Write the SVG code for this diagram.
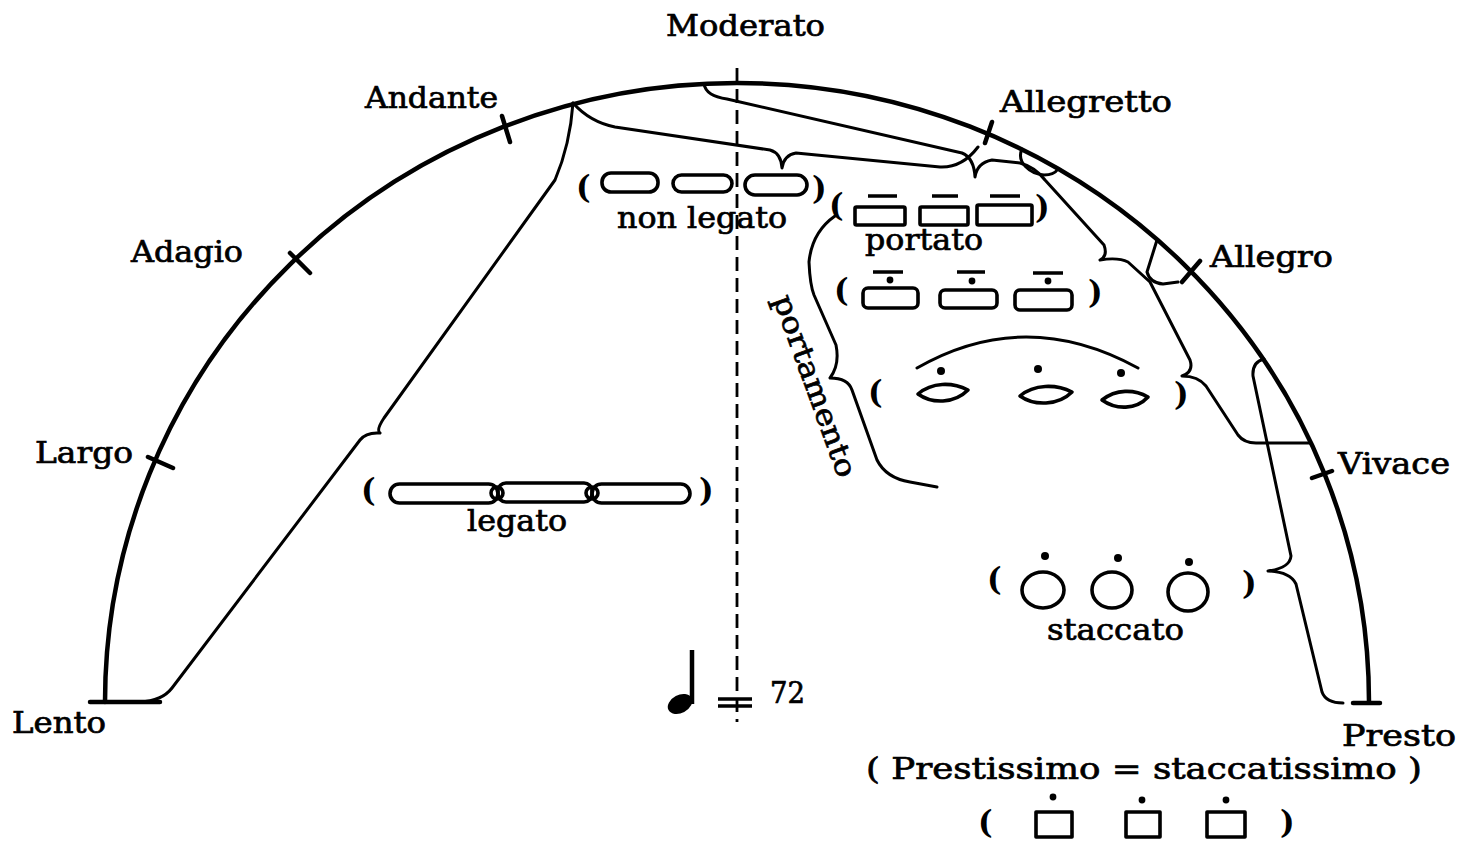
<svg xmlns="http://www.w3.org/2000/svg" width="1461" height="842" viewBox="0 0 1461 842">
<style>
.t{font-family:"DejaVu Serif","Liberation Serif",serif;font-size:29px;fill:#000;stroke:#000;stroke-width:0.7}
.p{font-family:"DejaVu Serif","Liberation Serif",serif;font-size:31px;font-weight:bold;fill:#000}
.ln{fill:none;stroke:#000;stroke-width:3;stroke-linecap:round;stroke-linejoin:round}
.arc{fill:none;stroke:#000;stroke-width:4.5;stroke-linecap:round}
.sh{fill:none;stroke:#000;stroke-width:3.6;stroke-linejoin:round}
.dot{fill:#000}
</style>
<rect width="1461" height="842" fill="#fff"/>

<g id="scale">
  <path class="arc" d="M105 702 A632 619 0 0 1 1369 702"/>
  <path class="arc" d="M502 116 L510 142 M290 253 L310 273 M148 457 L173 468 M992 122 L985 143 M1200 261 L1182 282 M1312 478 L1332 471"/>
  <path class="arc" stroke-width="5.5" d="M90 702 L160 702 M1353 703 L1380 703"/>
</g>

<g id="labels">
  <text class="t" x="666" y="36" textLength="159" lengthAdjust="spacingAndGlyphs">Moderato</text>
  <text class="t" x="365" y="108" textLength="133" lengthAdjust="spacingAndGlyphs">Andante</text>
  <text class="t" x="131" y="262" textLength="112" lengthAdjust="spacingAndGlyphs">Adagio</text>
  <text class="t" x="35" y="463" textLength="98" lengthAdjust="spacingAndGlyphs">Largo</text>
  <text class="t" x="12" y="733" textLength="94" lengthAdjust="spacingAndGlyphs">Lento</text>
  <text class="t" x="1000" y="112" textLength="172" lengthAdjust="spacingAndGlyphs">Allegretto</text>
  <text class="t" x="1210" y="267" textLength="123" lengthAdjust="spacingAndGlyphs">Allegro</text>
  <text class="t" x="1338" y="474" textLength="112" lengthAdjust="spacingAndGlyphs">Vivace</text>
  <text class="t" x="1342" y="746" textLength="114" lengthAdjust="spacingAndGlyphs">Presto</text>
  <text class="t" x="866" y="779" textLength="556" lengthAdjust="spacingAndGlyphs">( Prestissimo = staccatissimo )</text>
</g>

<g id="connectors">
  <path class="ln" d="M573 103 Q570 145 555 180 L384 418 Q376 430 380 433 Q366 432 360 440 L172 688 Q162 701 140 702"/>
  <path class="ln" d="M573 103 Q590 122 615 127 L770 150 Q781 153 782 168 Q784 155 796 153 L940 167 Q962 168 978 147"/>
  <path class="ln" d="M704 84 Q706 96 727 99 L962 153 Q974 158 975 177 Q977 163 992 160 L1020 163 Q1035 167 1045 180 L1104 245 Q1108 256 1100 260 Q1118 257 1128 262 L1150 282 L1190 360 Q1194 372 1182 376 Q1198 376 1206 386 L1238 435 Q1244 443 1256 443 L1311 443"/>
  <path class="ln" d="M1022 149 C1016 162 1030 174 1044 175 C1052 175 1056 172 1058 169"/>
  <path class="ln" d="M1157 240 L1147 272 Q1150 283 1163 284 L1178 282"/>
  <path class="ln" d="M1264 359 Q1252 362 1253 376 L1291 556 Q1290 568 1268 571 Q1290 572 1296 584 L1322 692 Q1326 703 1343 703"/>
  <path class="ln" d="M835 216 Q812 232 809 262 Q810 285 814 295 L836 345 Q840 365 830 378 Q848 378 852 390 L877 460 Q886 478 910 482 L937 487"/>
</g>

<g id="tempo-axis">
  <line x1="737" y1="68" x2="737" y2="722" stroke="#000" stroke-width="2.8" stroke-dasharray="14 7"/>
  <line x1="692" y1="650" x2="692" y2="704" stroke="#000" stroke-width="4.5"/>
  <ellipse cx="680" cy="704" rx="13" ry="9" transform="rotate(-28 680 704)" class="dot"/>
  <path d="M718 699 L752 699 M718 706 L752 706" stroke="#000" stroke-width="3.5"/>
  <text class="t" x="770" y="703" font-size="25" textLength="35" lengthAdjust="spacingAndGlyphs">72</text>
</g>

<g id="non-legato">
  <text class="p" x="576" y="198">(</text>
  <rect class="sh" x="602" y="173" width="56" height="19" rx="9"/>
  <rect class="sh" x="673" y="175" width="59" height="17" rx="8.5"/>
  <rect class="sh" x="745" y="175" width="62" height="20" rx="10"/>
  <text class="p" x="812" y="199">)</text>
  <text class="t" x="617" y="228" textLength="170" lengthAdjust="spacingAndGlyphs">non legato</text>
</g>

<g id="portato">
  <text class="p" x="829" y="216">(</text>
  <rect class="sh" x="855" y="207" width="50" height="18" rx="1.5"/>
  <rect class="sh" x="920" y="207" width="48" height="18" rx="1.5"/>
  <rect class="sh" x="977" y="205" width="55" height="20" rx="1.5"/>
  <path class="sh" d="M868 196 L897 196 M932 196 L958 196 M990 196 L1020 196"/>
  <text class="p" x="1035" y="218">)</text>
  <text class="t" x="865" y="250" textLength="118" lengthAdjust="spacingAndGlyphs">portato</text>
</g>

<g id="mezzo-staccato">
  <text class="p" x="834" y="301">(</text>
  <rect class="sh" x="863" y="288" width="55" height="20" rx="5"/>
  <rect class="sh" x="940" y="290" width="57" height="18" rx="5"/>
  <rect class="sh" x="1015" y="290" width="57" height="20" rx="5"/>
  <path class="sh" d="M873 272 L903 272 M957 272 L985 272 M1033 273 L1063 273"/>
  <circle class="dot" cx="890" cy="280" r="3.4"/>
  <circle class="dot" cx="972" cy="281" r="3.4"/>
  <circle class="dot" cx="1048" cy="281" r="3.4"/>
  <text class="p" x="1088" y="303">)</text>
</g>

<g id="portamento">
  <text class="p" x="868" y="403">(</text>
  <path class="ln" d="M917 368 Q1025 306 1138 368"/>
  <circle class="dot" cx="941" cy="371" r="4"/>
  <circle class="dot" cx="1038" cy="369" r="4"/>
  <circle class="dot" cx="1121" cy="373" r="4"/>
  <path class="sh" d="M918 394 C932 382 952 382 968 390 C954 404 932 404 918 394 Z"/>
  <path class="sh" d="M1020 396 C1034 384 1056 384 1072 392 C1058 406 1034 406 1020 396 Z"/>
  <path class="sh" d="M1102 400 C1116 389 1134 389 1148 397 C1136 410 1116 410 1102 400 Z"/>
  <text class="p" x="1174" y="405">)</text>
  <text class="t" x="773" y="299" transform="rotate(70 773 299)" textLength="192" lengthAdjust="spacingAndGlyphs">portamento</text>
</g>

<g id="legato">
  <text class="p" x="361" y="501">(</text>
  <rect class="sh" x="390" y="484" width="108" height="19" rx="9.5"/>
  <rect class="sh" x="498" y="483" width="94" height="19" rx="8"/>
  <rect class="sh" x="592" y="484" width="98" height="19" rx="9.5"/>
  <circle class="sh" cx="497" cy="493" r="6"/>
  <circle class="sh" cx="592" cy="493" r="6"/>
  <text class="p" x="699" y="501">)</text>
  <text class="t" x="467" y="531" textLength="100" lengthAdjust="spacingAndGlyphs">legato</text>
</g>

<g id="staccato">
  <text class="p" x="987" y="590">(</text>
  <ellipse class="sh" cx="1043" cy="590" rx="21" ry="18"/>
  <ellipse class="sh" cx="1112" cy="590" rx="20" ry="18"/>
  <ellipse class="sh" cx="1188" cy="592" rx="20" ry="19"/>
  <circle class="dot" cx="1045" cy="556" r="4"/>
  <circle class="dot" cx="1118" cy="558" r="4"/>
  <circle class="dot" cx="1189" cy="562" r="4"/>
  <text class="p" x="1242" y="594">)</text>
  <text class="t" x="1047" y="640" textLength="137" lengthAdjust="spacingAndGlyphs">staccato</text>
</g>

<g id="staccatissimo">
  <text class="p" x="978" y="833">(</text>
  <rect class="sh" x="1036" y="812" width="36" height="25"/>
  <rect class="sh" x="1126" y="812" width="34" height="25"/>
  <rect class="sh" x="1207" y="812" width="38" height="25"/>
  <circle class="dot" cx="1053" cy="797" r="3.4"/>
  <circle class="dot" cx="1142" cy="800" r="3.4"/>
  <circle class="dot" cx="1226" cy="800" r="3.4"/>
  <text class="p" x="1280" y="833">)</text>
</g>
</svg>
